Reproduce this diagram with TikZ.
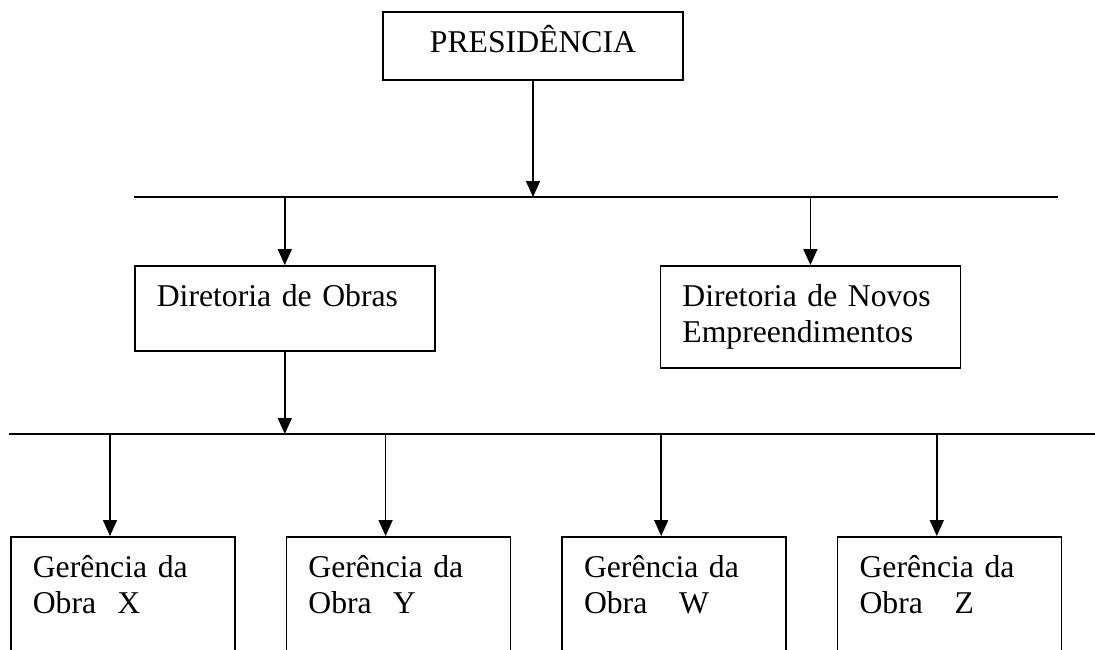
\documentclass[tikz,border=0pt]{standalone}
\usepackage{fontspec}
\setmainfont{Liberation Serif}
\usetikzlibrary{arrows.meta, calc, positioning}

\begin{document}
\begin{tikzpicture}[x=1pt, y=-1pt, line width=1.6pt, >={Triangle[width=14pt,length=16pt]},
        every node/.style={font=\fontsize{31.7}{36}\selectfont},
        orgbox/.style={draw, line width=1.6pt, inner ysep=0pt, inner xsep=22pt, text height=41pt},
        headbox/.style={orgbox, text width=256pt, align=center, text depth=27pt},
        dirbox/.style={orgbox, text width=256pt, align=left},
        gerbox/.style={orgbox, text width=180pt, align=left, text depth=150pt}]
        \useasboundingbox (0,0) rectangle (1095,650);
        \clip (0,0) rectangle (1095,650);

        % top level
        \node[headbox, anchor=north] (pres) at (533,11) {PRESIDÊNCIA};

        % directorates
        \node[dirbox, anchor=north west, text depth=44pt] (dirobras) at (134,265) {Diretoria de Obras};
        \node[dirbox, right=224pt of dirobras.north east, anchor=north west, text depth=61pt] (dirnovos) {Diretoria de Novos\\Empreendimentos};

        % site managements
        \node[gerbox, anchor=north west] (gerx) at (10,536) {Gerência da\\Obra\ \ X};
        \node[gerbox, right=50pt of gerx.north east, anchor=north west] (gery) {Gerência da\\Obra\ \ Y};
        \node[gerbox, right=50pt of gery.north east, anchor=north west] (gerw) {Gerência da\\Obra\ \ \ W};
        \node[gerbox, right=50pt of gerw.north east, anchor=north west] (gerz) {Gerência da\\Obra\ \ \ Z};

        % bus lines
        \coordinate (bus1l) at (134,197);
        \coordinate (bus1r) at (1058,197);
        \coordinate (bus2l) at (9,434);
        \coordinate (bus2r) at (1095,434);
        \draw (bus1l) -- (bus1r);
        \draw (bus2l) -- (bus2r);

        \draw[->] (pres) -- (pres |- bus1l);
        \draw[->] (dirobras |- bus1l) -- (dirobras);
        \draw[->] (dirnovos |- bus1l) -- (dirnovos);
        \draw[->] (dirobras) -- (dirobras |- bus2l);

        \coordinate (gerxin) at ($(gerx.north west)+(100,0)$);
        \coordinate (geryin) at ($(gery.north west)+(100,0)$);
        \coordinate (gerwin) at ($(gerw.north west)+(100,0)$);
        \coordinate (gerzin) at ($(gerz.north west)+(100,0)$);
        \draw[->] (gerxin |- bus2l) -- (gerxin);
        \draw[->] (geryin |- bus2l) -- (geryin);
        \draw[->] (gerwin |- bus2l) -- (gerwin);
        \draw[->] (gerzin |- bus2l) -- (gerzin);
    \end{tikzpicture}
\end{document}
